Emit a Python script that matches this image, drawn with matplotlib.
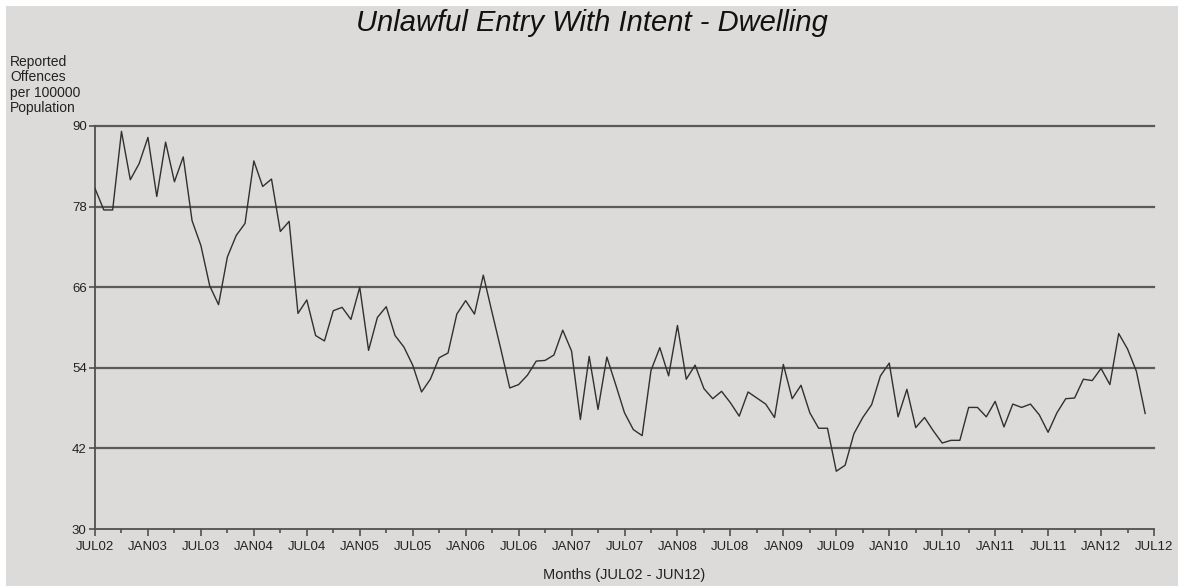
import numpy as np
import matplotlib.pyplot as plt
from matplotlib.patches import Rectangle

# monthly values JUL02 .. JUN12
offences = [
    80.7, 77.5, 77.5, 89.2, 82.0, 84.4, 88.3, 79.5, 87.6, 81.7, 85.4, 75.9,
    72.2, 66.2, 63.4, 70.5, 73.7, 75.5, 84.8, 81.0, 82.1, 74.3, 75.8, 62.1,
    64.1, 58.8, 58.0, 62.5, 63.0, 61.2, 66.0, 56.6, 61.5, 63.1, 58.8, 57.1,
    54.4, 50.4, 52.3, 55.5, 56.2, 62.0, 64.0, 62.0, 67.8, 62.2, 56.7, 51.0,
    51.5, 52.9, 55.0, 55.1, 55.9, 59.6, 56.5, 46.3, 55.7, 47.8, 55.6, 51.5,
    47.3, 44.8, 43.9, 53.6, 57.0, 52.8, 60.3, 52.3, 54.4, 50.9, 49.4, 50.5,
    48.8, 46.8, 50.4, 49.5, 48.6, 46.6, 54.5, 49.4, 51.4, 47.3, 45.0, 45.0,
    38.6, 39.5, 44.2, 46.6, 48.5, 52.8, 54.7, 46.7, 50.8, 45.1, 46.6, 44.6,
    42.8, 43.2, 43.2, 48.1, 48.1, 46.7, 49.0, 45.2, 48.6, 48.1, 48.6, 47.0,
    44.4, 47.3, 49.4, 49.5, 52.3, 52.1, 53.9, 51.5, 59.1, 56.8, 53.5, 47.2,
]
tick_labels = ['JUL02', 'JAN03', 'JUL03', 'JAN04', 'JUL04', 'JAN05', 'JUL05',
               'JAN06', 'JUL06', 'JAN07', 'JUL07', 'JAN08', 'JUL08', 'JAN09',
               'JUL09', 'JAN10', 'JUL10', 'JAN11', 'JUL11', 'JAN12', 'JUL12']
y_ticks = [30, 42, 54, 66, 78, 90]

plt.rcParams['font.family'] = ['Liberation Sans', 'DejaVu Sans']
bg = '#dcdbd9'

fig = plt.figure(figsize=(11.8, 5.86), dpi=100, facecolor='white')
# grey panel with thin white margin at top/left
fig.patches.append(Rectangle((6 / 1180, 0), 1 - 8 / 1180, 1 - 6 / 586,
                             transform=fig.transFigure, facecolor=bg,
                             edgecolor='none', zorder=-10))

ax = fig.add_axes([95 / 1180, 1 - 529 / 586, 1059 / 1180, 403 / 586])
ax.set_facecolor(bg)

months = np.arange(len(offences))
ax.plot(months, offences, color='#303030', lw=1.0, zorder=3)

ax.set_xlim(0, 120)
ax.set_ylim(30, 90)
ax.set_yticks(y_ticks)
ax.set_xticks(np.arange(0, 121, 6))
ax.set_xticklabels(tick_labels)
ax.set_xticks(np.arange(3, 121, 6), minor=True)
for y in y_ticks[1:]:
    ax.axhline(y, color='#5a5a5a', lw=1.6, zorder=1, clip_on=False)

for s in ['top', 'right']:
    ax.spines[s].set_visible(False)
for s in ['left', 'bottom']:
    ax.spines[s].set_color('#505050')
    ax.spines[s].set_linewidth(1.3)

ax.tick_params(axis='x', which='major', length=5, width=1.2, color='#505050',
               labelsize=9.5, pad=4, labelcolor='#222222')
ax.tick_params(axis='x', which='minor', length=3, width=1.2, color='#505050')
ax.tick_params(axis='y', length=4, width=1.2, color='#505050',
               labelsize=9.5, pad=2, labelcolor='#222222')

fig.text(592 / 1180, 1 - 23 / 586, 'Unlawful Entry With Intent - Dwelling',
         ha='center', va='center', fontsize=21, style='italic', color='#111111')
fig.text(10 / 1180, 1 - 55 / 586, 'Reported\nOffences\nper 100000\nPopulation',
         ha='left', va='top', fontsize=10, linespacing=1.12, color='#222222')
fig.text(624 / 1180, 1 - 575 / 586, 'Months (JUL02 - JUN12)',
         ha='center', va='center', fontsize=10.5, color='#222222')

fig.savefig('out.png', dpi=100, facecolor='white')
